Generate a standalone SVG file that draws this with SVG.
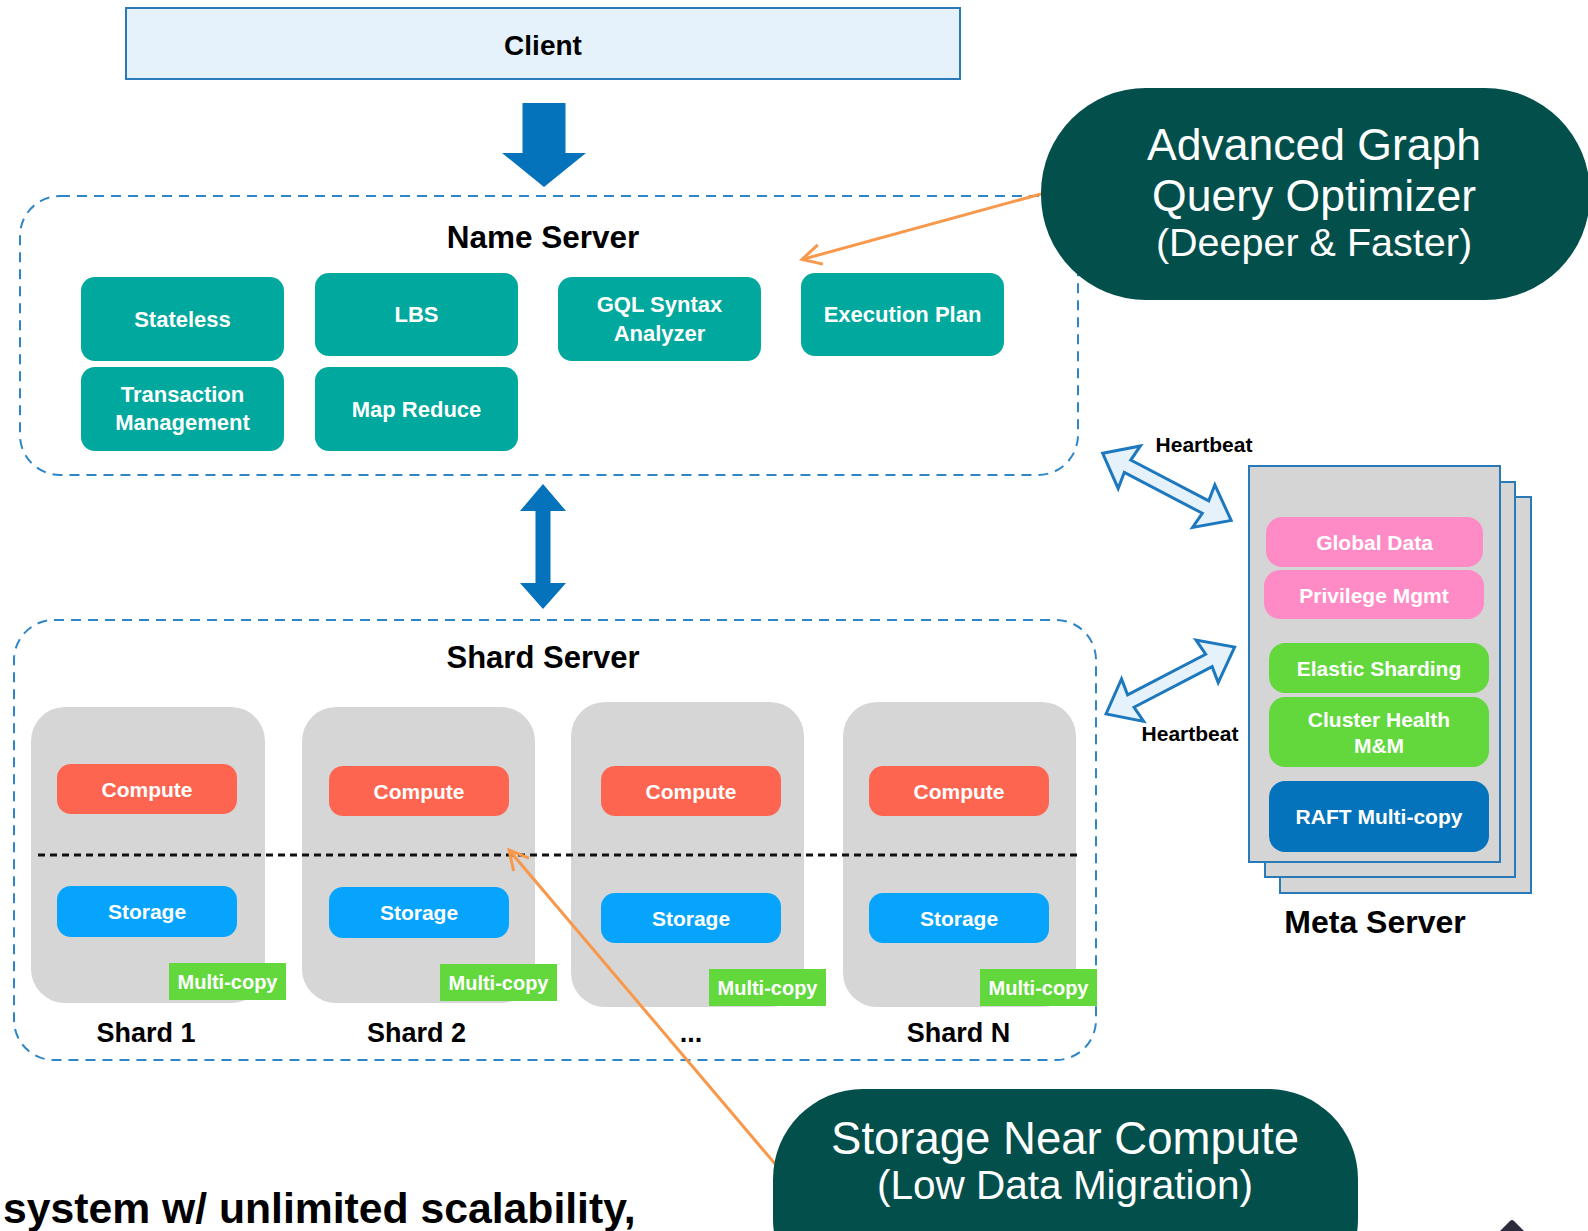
<svg xmlns="http://www.w3.org/2000/svg" width="1588" height="1231" viewBox="0 0 1588 1231">
<defs>
<style>
text{font-family:"Liberation Sans",Arial,Helvetica,sans-serif;}
.ttl{font-weight:bold;fill:#000;text-anchor:middle;}
.wt{font-weight:bold;fill:#fff;text-anchor:middle;}
.teal{fill:#00A89D;}
.dash{fill:none;stroke:#2E86C7;stroke-width:2;stroke-dasharray:10 7;}
.card{fill:#D6D6D6;}
.comp{fill:#FE6550;}
.stor{fill:#06A4FC;}
.mc{fill:#62D83C;}
.meta{fill:#D5D5D5;stroke:#2A7AB8;stroke-width:2;}
.callout{fill:#034F4C;}
.ctx{fill:#fff;text-anchor:middle;}
.orange{fill:none;stroke:#F8984A;stroke-width:3;}
.hb{fill:#E5F2FB;stroke:#1E78BE;stroke-width:3;stroke-linejoin:miter;}
.blue{fill:#0473BB;}
</style>
<marker id="oarrow" markerUnits="userSpaceOnUse" markerWidth="26" markerHeight="26" viewBox="0 0 26 26" refX="23" refY="13" orient="auto">
<path d="M4,3 L23,13 L4,23" fill="none" stroke="#F8984A" stroke-width="3"/>
</marker>
<polygon id="dbl" points="0,0 30,-24 28,-7 116,-7 114,-24 145,0 114,24 116,7 28,7 30,24"/>
</defs>

<g id="client">
<rect x="126" y="8" width="834" height="71" fill="#E5F2FB" stroke="#2A7AB8" stroke-width="2"/>
<text class="ttl" x="543" y="55" font-size="28">Client</text>
</g>

<g id="name-server">
<rect class="dash" x="20" y="196" width="1058" height="279" rx="40"/>
<text class="ttl" x="543" y="248" font-size="31.5">Name Server</text>
<g id="ns-stateless"><rect class="teal" x="81" y="277" width="203" height="84" rx="14"/><text class="wt" x="182.5" y="327" font-size="22">Stateless</text></g>
<g id="ns-lbs"><rect class="teal" x="315" y="273" width="203" height="83" rx="14"/><text class="wt" x="416.5" y="322" font-size="22">LBS</text></g>
<g id="ns-gql"><rect class="teal" x="558" y="277" width="203" height="84" rx="14"/><text class="wt" x="659.5" y="312" font-size="22">GQL Syntax</text><text class="wt" x="659.5" y="341" font-size="22">Analyzer</text></g>
<g id="ns-exec"><rect class="teal" x="801" y="273" width="203" height="83" rx="14"/><text class="wt" x="902.5" y="322" font-size="22">Execution Plan</text></g>
<g id="ns-tx"><rect class="teal" x="81" y="367" width="203" height="84" rx="14"/><text class="wt" x="182.5" y="402" font-size="22">Transaction</text><text class="wt" x="182.5" y="430" font-size="22">Management</text></g>
<g id="ns-mr"><rect class="teal" x="315" y="367" width="203" height="84" rx="14"/><text class="wt" x="416.5" y="417" font-size="22">Map Reduce</text></g>
</g>

<g id="shard-server">
<rect class="dash" x="14" y="620" width="1082" height="440" rx="40"/>
<text class="ttl" x="543" y="668" font-size="31">Shard Server</text>
<g id="shard-1">
<rect class="card" x="31" y="707" width="234" height="296" rx="34"/>
<rect class="comp" x="57" y="764" width="180" height="50" rx="14"/><text class="wt" x="147" y="797" font-size="21">Compute</text>
<rect class="stor" x="57" y="886" width="180" height="51" rx="14"/><text class="wt" x="147" y="919" font-size="21">Storage</text>
<rect class="mc" x="169" y="963" width="117" height="37"/><text class="wt" x="227.5" y="989" font-size="20">Multi-copy</text>
<text class="ttl" x="146" y="1042" font-size="27">Shard 1</text>
</g>
<g id="shard-2">
<rect class="card" x="302" y="707" width="233" height="296" rx="34"/>
<rect class="comp" x="329" y="766" width="180" height="50" rx="14"/><text class="wt" x="419" y="799" font-size="21">Compute</text>
<rect class="stor" x="329" y="887" width="180" height="51" rx="14"/><text class="wt" x="419" y="920" font-size="21">Storage</text>
<rect class="mc" x="440" y="964" width="117" height="37"/><text class="wt" x="498.5" y="990" font-size="20">Multi-copy</text>
<text class="ttl" x="416.5" y="1042" font-size="27">Shard 2</text>
</g>
<g id="shard-3">
<rect class="card" x="571" y="702" width="233" height="305" rx="34"/>
<rect class="comp" x="601" y="766" width="180" height="50" rx="14"/><text class="wt" x="691" y="799" font-size="21">Compute</text>
<rect class="stor" x="601" y="893" width="180" height="50" rx="14"/><text class="wt" x="691" y="926" font-size="21">Storage</text>
<rect class="mc" x="709" y="969" width="117" height="37"/><text class="wt" x="767.5" y="995" font-size="20">Multi-copy</text>
<text class="ttl" x="691" y="1042" font-size="27">...</text>
</g>
<g id="shard-n">
<rect class="card" x="843" y="702" width="233" height="305" rx="34"/>
<rect class="comp" x="869" y="766" width="180" height="50" rx="14"/><text class="wt" x="959" y="799" font-size="21">Compute</text>
<rect class="stor" x="869" y="893" width="180" height="50" rx="14"/><text class="wt" x="959" y="926" font-size="21">Storage</text>
<rect class="mc" x="980" y="969" width="117" height="37"/><text class="wt" x="1038.5" y="995" font-size="20">Multi-copy</text>
<text class="ttl" x="958.5" y="1042" font-size="27">Shard N</text>
</g>
<line id="compute-storage-divider" x1="38" y1="855" x2="1078" y2="855" stroke="#111" stroke-width="3" stroke-dasharray="7 5"/>
</g>

<g id="meta-server">
<rect class="meta" x="1280" y="497" width="251" height="396"/>
<rect class="meta" x="1265" y="482" width="250" height="395"/>
<rect class="meta" x="1249" y="466" width="251" height="396"/>
<g id="ms-global"><rect x="1266" y="517" width="217" height="50" rx="16" fill="#FF8BC6"/><text class="wt" x="1374.5" y="549.5" font-size="21">Global Data</text></g>
<g id="ms-priv"><rect x="1264" y="570" width="220" height="49" rx="16" fill="#FF8BC6"/><text class="wt" x="1374" y="602.5" font-size="21">Privilege Mgmt</text></g>
<g id="ms-elastic"><rect class="mc" x="1269" y="643" width="220" height="50" rx="16"/><text class="wt" x="1379" y="676" font-size="21">Elastic Sharding</text></g>
<g id="ms-health"><rect class="mc" x="1269" y="697" width="220" height="70" rx="16"/><text class="wt" x="1379" y="726.5" font-size="21">Cluster Health</text><text class="wt" x="1379" y="752.5" font-size="21">M&amp;M</text></g>
<g id="ms-raft"><rect x="1269" y="781" width="220" height="71" rx="16" fill="#0473BB"/><text class="wt" x="1379" y="824" font-size="21">RAFT Multi-copy</text></g>
<text class="ttl" x="1375" y="933" font-size="32">Meta Server</text>
</g>

<g id="connectors">
<polygon id="client-to-name" class="blue" points="522.5,103 565.5,103 565.5,153 586,153 544,187 502,153 522.5,153"/>
<polygon id="name-shard" class="blue" points="543,484 566,511 550.5,511 550.5,583 566,583 543,609 520,583 535.5,583 535.5,511 520,511"/>
<use id="hb-name-meta" href="#dbl" class="hb" transform="translate(1102.7,453.3) rotate(27.6)"/>
<use id="hb-shard-meta" href="#dbl" class="hb" transform="translate(1106,714) rotate(-27.5)"/>
<text class="ttl" x="1204" y="452" font-size="21">Heartbeat</text>
<text class="ttl" x="1190" y="741" font-size="21">Heartbeat</text>
<line id="opt-to-exec" class="orange" x1="1041" y1="194" x2="802" y2="259.5" marker-end="url(#oarrow)"/>
<line id="snc-to-divider" class="orange" x1="776" y1="1165" x2="509" y2="850" marker-end="url(#oarrow)"/>
</g>

<g id="callout-optimizer">
<rect class="callout" x="1041" y="88" width="549" height="212" rx="105"/>
<text class="ctx" x="1314" y="160" font-size="44.5">Advanced Graph</text>
<text class="ctx" x="1314" y="211" font-size="44.5">Query Optimizer</text>
<text class="ctx" x="1314" y="256" font-size="39.5">(Deeper &amp; Faster)</text>
</g>

<g id="callout-storage">
<rect class="callout" x="773" y="1089" width="585" height="220" rx="90"/>
<text class="ctx" x="1065" y="1154" font-size="45.5">Storage Near Compute</text>
<text class="ctx" x="1065" y="1199" font-size="40.5">(Low Data Migration)</text>
</g>

<text x="3" y="1223" font-size="42.7" font-weight="bold" fill="#000">system w/ unlimited scalability,</text>
<path d="M1500,1231 L1510,1221 Q1512,1219 1514,1221 L1524,1231 Z" fill="#2B2B3B"/>
</svg>
